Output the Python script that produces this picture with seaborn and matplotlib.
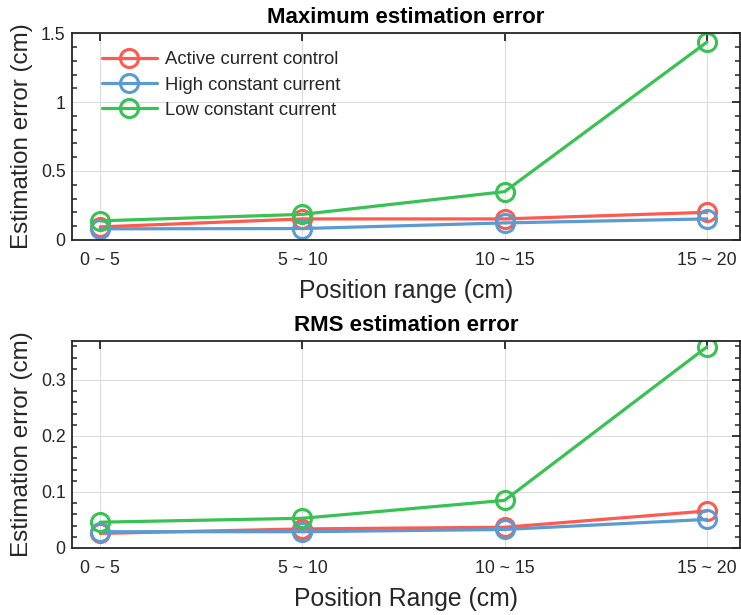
import matplotlib
matplotlib.use("Agg")
import matplotlib.pyplot as plt
from matplotlib.ticker import MultipleLocator
import numpy as np
import pandas as pd
import seaborn as sns

ranges = ["0 ~ 5", "5 ~ 10", "10 ~ 15", "15 ~ 20"]
series_names = ["Active current control", "High constant current", "Low constant current"]
colors = ["#FF5A4F", "#5B9BD2", "#38C253"]

max_active = [0.094, 0.152, 0.152, 0.200]
max_high = [0.080, 0.082, 0.123, 0.152]
max_low = [0.138, 0.185, 0.350, 1.435]

rms_active = [0.026, 0.034, 0.037, 0.066]
rms_high = [0.029, 0.029, 0.033, 0.051]
rms_low = [0.046, 0.053, 0.085, 0.359]

sns.set_theme(style="white")
plt.rcParams["font.family"] = ["Liberation Sans", "DejaVu Sans"]

fig = plt.figure(figsize=(7.41, 6.15), dpi=100)
ax1 = fig.add_axes([0.097, 0.610, 0.902, 0.336])
ax2 = fig.add_axes([0.097, 0.109, 0.902, 0.337])


def draw(ax, values, title, xlabel, ylim, major, minor):
    x = np.arange(1, len(ranges) + 1)
    for name, vals, c in zip(series_names, values, colors):
        df = pd.DataFrame({"x": x, "y": vals})
        sns.lineplot(data=df, x="x", y="y", ax=ax, color=c, lw=2.3,
                     marker="o", markersize=13, markerfacecolor="none",
                     markeredgecolor=c, markeredgewidth=2.2, label=name)
    ax.set_xlim(0.86, 4.165)
    ax.set_ylim(*ylim)
    ax.set_xticks(x)
    ax.set_xticklabels(ranges)
    ax.yaxis.set_major_locator(MultipleLocator(major))
    ax.yaxis.set_minor_locator(MultipleLocator(minor))
    ax.yaxis.set_major_formatter(plt.FuncFormatter(lambda v, p: f"{v:g}"))
    ax.grid(True, which="major", color="#DCDCDC", lw=0.8)
    ax.set_axisbelow(True)
    for s in ax.spines.values():
        s.set_visible(True)
        s.set_color("#262626")
        s.set_linewidth(1.3)
    ax.tick_params(which="both", direction="in", top=True, right=True,
                   color="#262626", labelsize=12.8, labelcolor="#262626")
    ax.tick_params(axis="y", pad=4.5)
    ax.tick_params(axis="x", pad=9)
    ax.tick_params(which="major", length=6, width=1.3)
    ax.tick_params(which="minor", length=3.5, width=1.1, left=True, right=True)
    ax.set_title(title, fontsize=16, fontweight="bold", pad=7, color="black")
    ax.set_xlabel(xlabel, fontsize=17.8, color="#262626", labelpad=7)
    ax.set_ylabel("Estimation error (cm)", fontsize=17.5, color="#262626", labelpad=6)


draw(ax1, [max_active, max_high, max_low], "Maximum estimation error",
     "Position range (cm)", (0, 1.5), 0.5, 0.1)
draw(ax2, [rms_active, rms_high, rms_low], "RMS estimation error",
     "Position Range (cm)", (0, 0.37), 0.1, 0.02)

ax1.legend(loc="upper left", frameon=False, fontsize=13.3, handlelength=3.0,
           borderaxespad=0.3, labelspacing=0.45, handletextpad=0.45,
           bbox_to_anchor=(0.025, 0.975))
ax2.get_legend().remove()

fig.savefig("out.png", dpi=100)
